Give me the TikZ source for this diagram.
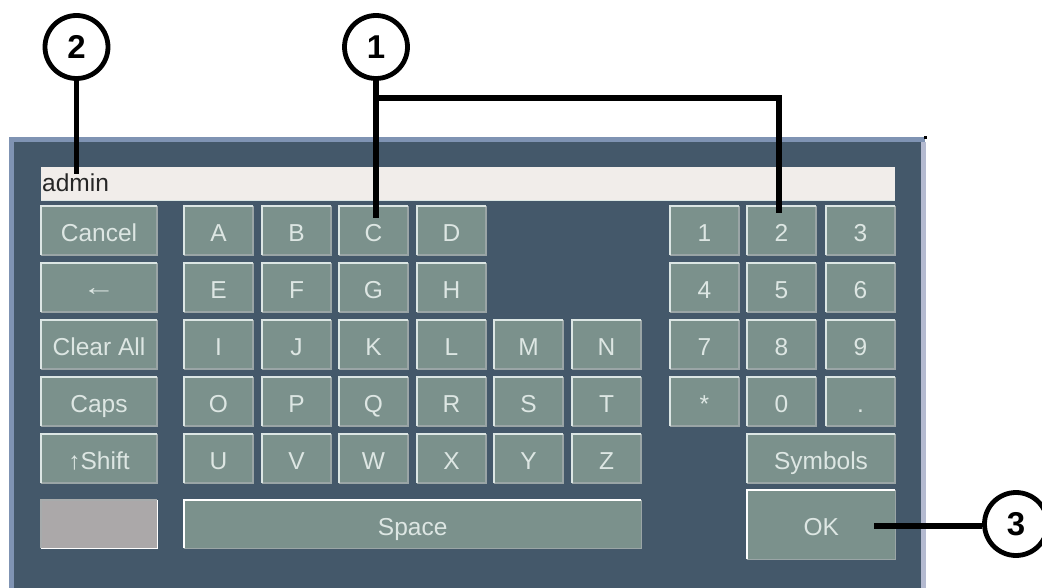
\documentclass[tikz,border=0pt]{standalone}
\usepackage{fontspec}
\setmainfont{Liberation Sans}
\definecolor{panel}{HTML}{44586A}
\definecolor{keyfill}{HTML}{7B918C}
\definecolor{keylite}{HTML}{DCE6E4}
\definecolor{keydark}{HTML}{9AA5A6}
\definecolor{frametop}{HTML}{7F93B3}
\definecolor{frameright}{HTML}{B4BAD0}
\definecolor{field}{HTML}{F1EDEA}
\definecolor{greykey}{HTML}{ABA8A9}
\definecolor{labeltext}{HTML}{DDE6E3}
\tikzset{
  keybox/.style={fill=keyfill,draw=none,inner sep=0pt,text=labeltext,text height=22pt,text depth=0pt,font=\fontsize{24.5}{24.5}\selectfont},
  calloutline/.style={line width=5.5pt,black},
  callout/.style={circle,draw=black,line width=4.8pt,fill=white,minimum size=63pt,inner sep=0pt,font=\fontsize{33}{33}\selectfont\bfseries},
}
% \keycap{name}{x1}{y1}{x2}{y2}{text}
\newcommand{\keycap}[6]{%
  \node[keybox,minimum width=#4pt-#2pt,minimum height=#5pt-#3pt] (#1) at ({(#2+#4)/2},{(#3+#5)/2}) {#6};
  \draw[keydark,line width=1.5pt] (#1.north east) -- (#1.south east) -- (#1.south west);
  \draw[keylite,line width=1.5pt] (#1.south west) -- (#1.north west) -- (#1.north east);
}
\begin{document}
\begin{tikzpicture}[x=1pt,y=-1pt]
\useasboundingbox (0,0) rectangle (1042,588);
\fill[white] (0,0) rectangle (1042,588);
% frame
\fill[panel] (9,137) rectangle (925,588);
\fill[frametop] (9,137) rectangle (925,142);
\fill[frametop] (9,137) rectangle (14,588);
\fill[frameright] (921,142) rectangle (926,588);
\fill[black] (924,136) rectangle (927,139);
% text field
\node[fill=field,draw=none,inner sep=0pt,minimum width=854pt,minimum height=33pt,anchor=north west] (fld) at (41,167) {};
\draw[keylite,line width=1pt] (fld.south west) -- (fld.south east);
\node[anchor=base west,inner sep=0pt,font=\fontsize{24.5}{24.5}\selectfont,text=black!85] (adm) at (42,192) {admin};
% left column
\keycap{kCancel}{41}{206}{157}{255}{Cancel}
\keycap{kBack}{41}{263}{157}{312}{\raisebox{3pt}{\scalebox{1.35}[1]{←}}}
\keycap{kClear}{41}{320}{157}{369}{Clear All}
\keycap{kCaps}{41}{377}{157}{426}{Caps}
\keycap{kShift}{41}{434}{157}{483}{↑Shift}
% letters
\keycap{kA}{184}{206}{253}{255}{A}
\keycap{kB}{262}{206}{331}{255}{B}
\keycap{kC}{339}{206}{408}{255}{C}
\keycap{kD}{417}{206}{486}{255}{D}
\keycap{kE}{184}{263}{253}{312}{E}
\keycap{kF}{262}{263}{331}{312}{F}
\keycap{kG}{339}{263}{408}{312}{G}
\keycap{kH}{417}{263}{486}{312}{H}
\keycap{kI}{184}{320}{253}{369}{I}
\keycap{kJ}{262}{320}{331}{369}{J}
\keycap{kK}{339}{320}{408}{369}{K}
\keycap{kL}{417}{320}{486}{369}{L}
\keycap{kM}{494}{320}{563}{369}{M}
\keycap{kN}{572}{320}{641}{369}{N}
\keycap{kO}{184}{377}{253}{426}{O}
\keycap{kP}{262}{377}{331}{426}{P}
\keycap{kQ}{339}{377}{408}{426}{Q}
\keycap{kR}{417}{377}{486}{426}{R}
\keycap{kS}{494}{377}{563}{426}{S}
\keycap{kT}{572}{377}{641}{426}{T}
\keycap{kU}{184}{434}{253}{483}{U}
\keycap{kV}{262}{434}{331}{483}{V}
\keycap{kW}{339}{434}{408}{483}{W}
\keycap{kX}{417}{434}{486}{483}{X}
\keycap{kY}{494}{434}{563}{483}{Y}
\keycap{kZ}{572}{434}{641}{483}{Z}
% numbers
\keycap{n1}{670}{206}{739}{255}{1}
\keycap{n2}{747}{206}{816}{255}{2}
\keycap{n3}{826}{206}{895}{255}{3}
\keycap{n4}{670}{263}{739}{312}{4}
\keycap{n5}{747}{263}{816}{312}{5}
\keycap{n6}{826}{263}{895}{312}{6}
\keycap{n7}{670}{320}{739}{369}{7}
\keycap{n8}{747}{320}{816}{369}{8}
\keycap{n9}{826}{320}{895}{369}{9}
\keycap{nStar}{670}{377}{739}{426}{*}
\keycap{n0}{747}{377}{816}{426}{0}
\keycap{nDot}{826}{377}{895}{426}{.}
\keycap{kSym}{747}{434}{895}{483}{Symbols}
% bottom row
\node[fill=greykey,inner sep=0pt,minimum width=116pt,minimum height=48pt,anchor=north west] (kGrey) at (41,500) {};
\draw[white,line width=1.5pt] (kGrey.south west) -- (kGrey.south east) -- (kGrey.north east);
\draw[keydark!70!black!60,line width=1.5pt] (kGrey.south west) -- (kGrey.north west) -- (kGrey.north east);
\node[keybox,minimum width=457pt,minimum height=48pt,anchor=north west] (kSpace) at (184,500) {Space};
\draw[white,line width=1.5pt] (kSpace.south west) -- (kSpace.north west) -- (kSpace.north east);
\draw[keydark,line width=1.5pt] (kSpace.north east) -- (kSpace.south east) -- (kSpace.south west);
\node[keybox,minimum width=148pt,minimum height=69pt,anchor=north west] (kOK) at (747,490) {OK};
\draw[white,line width=1.5pt] (kOK.south west) -- (kOK.north west) -- (kOK.north east);
\draw[keydark,line width=1.5pt] (kOK.north east) -- (kOK.south east) -- (kOK.south west);
% callouts
\node[callout] (c2) at (76.5,47) {2};
\node[callout] (c1) at (376,47) {1};
\node[callout] (c3) at (1016,524) {3};
\coordinate (pAdmin) at (77,174);
\coordinate (pC) at (376,218);
\coordinate (pCorner) at (779,98);
\coordinate (pTwo) at (779,213);
\coordinate (pBranch) at (376,98);
\coordinate (pOK) at (874,526);
\draw[calloutline] (c2.south) -- (c2.south |- pAdmin);
\draw[calloutline] (c1.south) -- (c1.south |- pC);
\draw[calloutline,line join=miter] (pBranch) -- (pCorner) -- (pTwo);
\draw[calloutline] (pOK) -- (c3.west |- pOK);
\end{tikzpicture}
\end{document}
